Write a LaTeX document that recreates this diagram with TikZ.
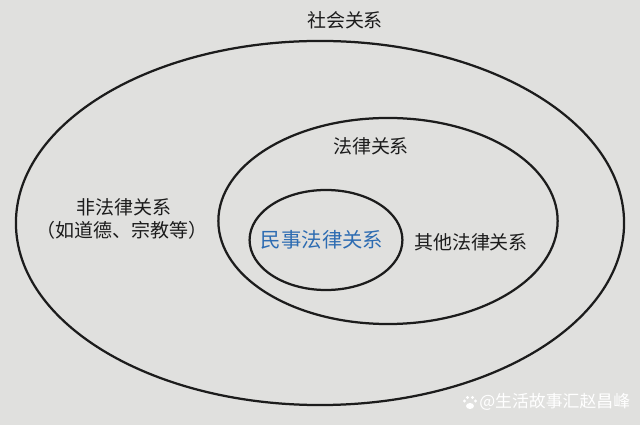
\documentclass[tikz,border=0pt]{standalone}
\usepackage{fontspec}
\setmainfont{Noto Sans CJK SC}
\definecolor{pagefill}{RGB}{224, 224, 222}
\definecolor{inkgrey}{RGB}{28, 28, 28}
\definecolor{civilblue}{RGB}{45, 108, 178}
\usetikzlibrary{positioning}
\tikzset{
    every node/.style={font=\fontsize{13.5}{16}\selectfont, text=inkgrey},
    ring/.style={draw=inkgrey, line width=1.6pt},
    wmtext/.style={text=white, font=\fontsize{12}{14}\selectfont, inner sep=0pt},
}

\begin{document}
\begin{tikzpicture}[x=0.025cm, y=-0.025cm]
    \fill[pagefill] (0, 0) rectangle (640, 425);
    \useasboundingbox (0, 0) rectangle (640, 425);
    % three nested sets
    \draw[ring] (320, 223) ellipse[x radius=7.6cm, y radius=4.55cm];
    \draw[ring] (388, 221) ellipse[x radius=4.24cm, y radius=2.575cm];
    \draw[ring] (326, 240) ellipse[x radius=1.91cm, y radius=1.25cm];
    \node (social) at (345, 20) {社会关系};
    \node (legal) at (371, 146) {法律关系};
    \node (nonlegal) at (124, 207) {非法律关系};
    \node (examples) at (122, 230) {（如道德、宗教等）};
    \node[text=civilblue, font=\fontsize{14.5}{17}\selectfont] (civil) at (322, 240) {民事法律关系};
    \node (otherlegal) at (471, 242) {其他法律关系};
    % watermark
    \node[wmtext, anchor=west] (wm) at (479, 402) {@生活故事汇赵昌峰};
    \fill[white] (470, 406) ellipse[x radius=0.1cm, y radius=0.075cm];
    \foreach \tx/\ty in {464.5/401, 467.5/397.5, 472.5/397.5, 475.5/401}
        \fill[white] (\tx, \ty) circle[radius=0.042cm];
\end{tikzpicture}
\end{document}
